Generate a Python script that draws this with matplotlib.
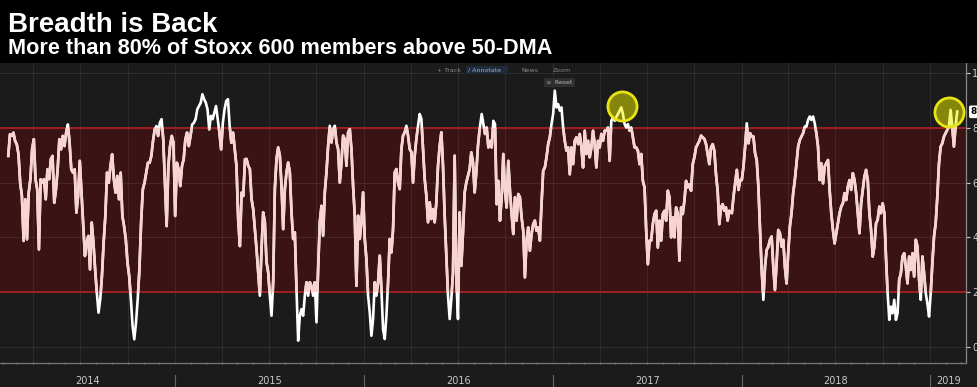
import matplotlib
matplotlib.use("Agg")
import matplotlib.pyplot as plt
import matplotlib.dates as mdates
import matplotlib.transforms as mtransforms
from matplotlib.patches import Rectangle, FancyBboxPatch
import numpy as np
import pandas as pd

# ---------------- data ----------------
title = "Breadth is Back"
subtitle = "More than 80% of Stoxx 600 members above 50-DMA"

seg_a_span = ("2014-02-12", "2015-05-16")
seg_a_values = [69.7, 77.6, 77.0, 78.2, 75.2, 73.9, 70.3, 59.9, 55.1, 38.7, 53.9, 39.3, 56.3, 61.2, 72.1, 75.8,
                61.2, 57.5, 35.6, 61.2, 59.9, 61.2, 53.9, 64.8, 61.2, 68.5, 69.7, 52.6, 57.5, 64.8, 75.8, 72.1,
                77.0, 73.3, 78.2, 81.2, 74.5, 64.8, 63.6, 64.8, 49.0, 55.1, 67.9, 56.3, 45.4, 33.2, 38.1, 40.5,
                28.3, 45.4, 38.1, 28.3, 19.8, 12.5, 17.4, 25.9, 38.1, 47.8, 63.6, 59.9, 66.0, 70.3, 61.2, 56.3,
                62.4, 53.9, 63.6, 47.8, 44.1, 39.3, 30.8, 25.9, 17.4, 7.6, 2.8, 8.9, 17.4, 28.3, 45.4, 57.5,
                59.9, 63.6, 67.2, 67.2, 69.7, 75.2, 79.4, 80.6, 77.0, 81.8, 83.1, 75.8, 59.9, 44.1, 66.0, 73.3,
                77.0, 74.5, 47.8, 67.2, 64.8, 58.7, 66.0, 68.5, 75.8, 78.2, 73.3, 77.0, 81.2, 81.8, 83.1, 86.7,
                87.9, 89.1, 92.2, 90.4, 89.1, 86.7, 79.4, 84.3, 83.1, 85.5, 87.9, 83.1, 78.2, 72.1, 81.8, 86.7,
                89.8, 90.4, 80.6, 74.5, 78.2, 72.1, 66.0, 46.6, 36.8, 56.3, 55.1, 68.5]

seg_b_span = ("2015-05-19", "2016-08-12")
seg_b_values = [68.6, 66.1, 64.9, 54.0, 50.3, 43.0, 35.7, 27.2, 18.7, 35.7, 49.1, 45.5, 30.9, 27.2, 18.7, 11.4,
                23.6, 57.6, 68.6, 72.8, 69.8, 58.8, 43.0, 57.6, 63.7, 67.3, 63.7, 49.1, 39.4, 41.8, 21.1, 2.3,
                11.4, 13.8, 11.4, 18.7, 23.6, 18.7, 23.6, 22.3, 18.7, 23.6, 9.0, 28.4, 45.5, 51.5, 40.6, 56.4,
                63.7, 73.4, 80.7, 74.6, 79.5, 80.7, 74.6, 72.2, 60.0, 67.3, 77.1, 75.9, 66.1, 78.3, 79.5, 72.2,
                58.8, 47.9, 22.3, 47.9, 39.4, 45.5, 56.4, 39.4, 32.1, 18.7, 12.6, 4.1, 10.2, 23.6, 18.7, 23.6,
                33.3, 21.1, 6.5, 2.9, 11.4, 23.6, 39.4, 34.5, 43.0, 63.7, 64.9, 60.0, 57.6, 72.2, 77.1, 78.3,
                80.7, 77.1, 72.2, 71.1, 60.0, 69.8, 75.9, 80.7, 85.0, 83.2, 72.2, 61.3, 55.2, 45.5, 52.8, 46.7,
                50.3, 45.5, 52.8, 66.1, 73.4, 78.3, 66.1, 47.9, 33.3, 18.7, 10.2, 17.5, 27.2, 69.8, 24.8, 10.2,
                49.1, 29.6, 41.8, 56.4, 60.0, 62.5, 64.9, 71.0, 67.3, 56.4, 63.7, 73.4, 79.5]

seg_c_span = ("2016-08-16", "2017-12-08")
seg_c_values = [85.0, 81.3, 77.7, 80.1, 72.8, 75.2, 72.8, 82.5, 81.3, 52.1, 60.6, 46.1, 54.6, 70.4, 57.0, 50.9,
                67.9, 57.0, 48.5, 41.2, 54.6, 46.1, 55.8, 54.6, 47.3, 42.4, 25.4, 38.8, 43.6, 35.1, 41.2, 44.8,
                46.1, 42.4, 43.6, 38.8, 52.1, 64.3, 65.5, 69.2, 74.0, 76.5, 81.3, 85.0, 93.5, 87.4, 88.6, 86.2,
                87.4, 80.1, 75.2, 71.6, 72.8, 63.0, 72.8, 66.7, 75.2, 76.5, 74.0, 77.7, 72.8, 65.5, 78.9, 70.4,
                75.2, 69.2, 72.8, 78.9, 74.0, 65.5, 75.2, 72.8, 77.7, 75.2, 78.9, 78.9, 80.1, 67.9, 82.5, 83.8,
                82.5, 83.8, 85.0, 86.2, 87.4, 85.0, 81.3, 80.1, 81.3, 78.9, 80.1, 76.5, 72.8, 72.8, 71.6, 66.7,
                70.4, 60.6, 58.2, 42.4, 30.2, 38.8, 38.8, 44.8, 48.5, 49.7, 36.3, 46.1, 38.8, 48.5, 49.7, 46.1,
                57.0, 54.6, 40.0, 47.3, 40.0, 50.9, 48.5, 31.5, 50.9, 48.5, 53.4, 60.6, 58.2, 59.4, 57.0, 66.7,
                69.2, 72.8, 74.0, 75.2, 77.1, 76.5, 75.9, 74.0, 70.4, 66.7, 72.8, 74.0, 71.6, 63.0, 57.0, 44.8,
                50.9, 52.1, 49.7, 50.9, 46.1, 49.7]

seg_d_span = ("2017-12-13", "2019-02-22")
seg_d_values = [48.8, 54.9, 59.7, 64.6, 57.3, 60.9, 60.9, 65.8, 73.1, 81.6, 74.3, 78.0, 76.8, 76.8, 70.7, 68.2,
                58.5, 42.7, 28.1, 17.2, 29.3, 35.4, 36.6, 39.1, 40.3, 29.3, 20.8, 30.5, 42.7, 41.5, 36.6, 39.1,
                29.3, 23.2, 34.2, 43.9, 48.8, 56.1, 60.9, 67.0, 73.1, 75.5, 76.8, 78.0, 80.4, 80.4, 82.8, 84.1,
                82.8, 84.1, 81.6, 78.0, 73.1, 60.9, 67.0, 59.7, 65.8, 67.0, 68.2, 57.3, 48.8, 42.7, 37.8, 41.5,
                45.1, 48.8, 51.2, 52.4, 56.1, 53.6, 58.5, 60.9, 57.3, 63.4, 60.9, 56.1, 48.8, 41.5, 52.4, 57.3,
                62.2, 64.6, 60.9, 48.8, 42.7, 33.0, 36.6, 45.1, 46.4, 51.2, 48.8, 52.4, 48.8, 33.0, 19.6, 9.9,
                14.7, 12.3, 17.2, 9.9, 12.3, 24.5, 26.9, 33.0, 34.2, 29.3, 23.2, 33.0, 28.1, 34.2, 25.7, 39.1,
                36.6, 24.5, 17.2, 33.0, 26.9, 19.6, 15.9, 11.1, 19.6, 30.5, 40.3, 45.1, 54.9, 67.0, 73.1, 74.3,
                76.8, 78.0, 79.2, 80.4, 86.5, 80.4, 73.1, 80.4, 85.9]

band_low, band_high = 20, 80
y_ticks = [0, 20, 40, 60, 80, 100]
y_tick_labels = ["0", "20", "40", "60", "80", "100"]
years = [2014, 2015, 2016, 2017, 2018, 2019]
highlight_dates = ["2017-05-14", "2019-02-07"]
highlight_values = [88.0, 85.8]
last_value_label = "86.39"

# ---------------- build series ----------------
dates, values = [], []
for span, vals in [(seg_a_span, seg_a_values), (seg_b_span, seg_b_values),
                   (seg_c_span, seg_c_values), (seg_d_span, seg_d_values)]:
    dates.extend(pd.date_range(span[0], span[1], periods=len(vals)))
    values.extend(vals)
dates = pd.DatetimeIndex(dates)
values = np.array(values)

# ---------------- figure ----------------
W, H = 977, 387
fig = plt.figure(figsize=(W / 100, H / 100), dpi=100, facecolor="#1b1b1b")
fig.patches.append(Rectangle((0, 1 - 63 / H), 1, 63 / H, transform=fig.transFigure,
                             facecolor="black", edgecolor="none", zorder=0))

ax = fig.add_axes([0, 24 / H, 966 / W, 300 / H])
ax.set_facecolor("#1b1b1b")
xmin, xmax = pd.Timestamp("2014-01-27"), pd.Timestamp("2019-03-11")
ax.set_xlim(xmin, xmax)
ax.set_ylim(-5.84, 103.6)

# band
ax.axhspan(band_low, band_high, facecolor="#3a1414", edgecolor="none", zorder=0.5)
for yv in (band_low, band_high):
    ax.axhline(yv, color="#a01f22", lw=1.4, zorder=1.2)

# grid
for yv in y_ticks:
    ax.axhline(yv, color="white", alpha=0.08, lw=0.8, zorder=1)
for q in pd.date_range("2014-04-01", "2019-03-01", freq="QS"):
    ax.axvline(q, color="white", alpha=0.08, lw=0.8, zorder=1)

# line: white outside band, pink inside
ax.plot(dates, values, color="white", lw=1.9, zorder=3, solid_joinstyle="round")
pink, = ax.plot(dates, values, color="#f7d4d0", lw=1.9, zorder=3.1, solid_joinstyle="round")
clip_rect = Rectangle((mdates.date2num(xmin), band_low),
                      mdates.date2num(xmax) - mdates.date2num(xmin), band_high - band_low,
                      transform=ax.transData, facecolor="none", edgecolor="none")
pink.set_clip_path(clip_rect)

# highlight circles
ax.scatter(pd.to_datetime(highlight_dates), highlight_values, s=440, facecolor=(0.95, 0.95, 0.0, 0.5),
           edgecolor="#e8e414", linewidth=2.0, zorder=4)

# spines / ticks
for s in ("left", "top"):
    ax.spines[s].set_visible(False)
ax.spines["bottom"].set_color("#777777")
ax.spines["right"].set_color("#888888")
ax.spines["bottom"].set_linewidth(0.9)
ax.spines["right"].set_linewidth(0.9)
ax.yaxis.tick_right()
ax.set_yticks(y_ticks)
ax.set_yticklabels(y_tick_labels)
ax.tick_params(axis="y", colors="#cccccc", length=3, width=0.8, pad=1.5, labelsize=7)
ax.xaxis.set_major_locator(mdates.YearLocator())
ax.xaxis.set_minor_locator(mdates.MonthLocator())
ax.tick_params(axis="x", which="major", length=0, labelbottom=False)
ax.tick_params(axis="x", which="minor", length=2, width=0.8, color="#777777", direction="inout")

# year labels and separators
trans = mtransforms.blended_transform_factory(ax.transData, ax.transAxes)
for yr in years:
    lo = max(pd.Timestamp(f"{yr}-01-01"), xmin)
    hi = min(pd.Timestamp(f"{yr + 1}-01-01"), xmax)
    mid = lo + (hi - lo) / 2
    ax.text(mid, -0.06, str(yr), transform=trans, ha="center", va="center",
            color="#c8c8c8", fontsize=7)
    if pd.Timestamp(f"{yr}-01-01") > xmin:
        ax.plot([pd.Timestamp(f"{yr}-01-01")] * 2, [-0.04, -0.085], transform=trans,
                color="#666666", lw=0.8, clip_on=False)

# last value label
ax.text(1.005, (highlight_values[1] + 5.84) / 109.44, last_value_label, transform=ax.transAxes,
        ha="left", va="center", color="black", fontsize=6.5, fontweight="bold",
        bbox=dict(boxstyle="round,pad=0.2", facecolor="white", edgecolor="none"), clip_on=False)

# titles
fig.text(8 / W, 1 - 32 / H, title, color="white", fontsize=20, fontweight="bold",
         family="Liberation Sans", ha="left", va="baseline")
fig.text(8 / W, 1 - 54 / H, subtitle, color="white", fontsize=15.6, fontweight="bold",
         family="Liberation Sans", ha="left", va="baseline")

# toolbar
tb_y = 1 - 70 / H
fig.patches.append(FancyBboxPatch((466 / W, 1 - 74 / H), 42 / W, 8 / H, boxstyle="square,pad=0",
                                  transform=fig.transFigure, facecolor="#1f2b3a", edgecolor="none"))
fig.patches.append(FancyBboxPatch((544 / W, 1 - 87 / H), 31 / W, 9 / H, boxstyle="square,pad=0",
                                  transform=fig.transFigure, facecolor="#2e2e2e", edgecolor="none"))
for label, xp, col in [("+ Track", 437, "#8a8a8a"), ("/ Annotate", 468, "#9aaecc"),
                       ("News", 521, "#8a8a8a"), ("Zoom", 553, "#8a8a8a")]:
    fig.text(xp / W, tb_y, label, color=col, fontsize=4.5, ha="left", va="center")
fig.text(547 / W, 1 - 82.5 / H, "o  Reset", color="#bbbbbb", fontsize=4.5, ha="left", va="center")

fig.savefig("out.png", dpi=100, facecolor=fig.get_facecolor())
